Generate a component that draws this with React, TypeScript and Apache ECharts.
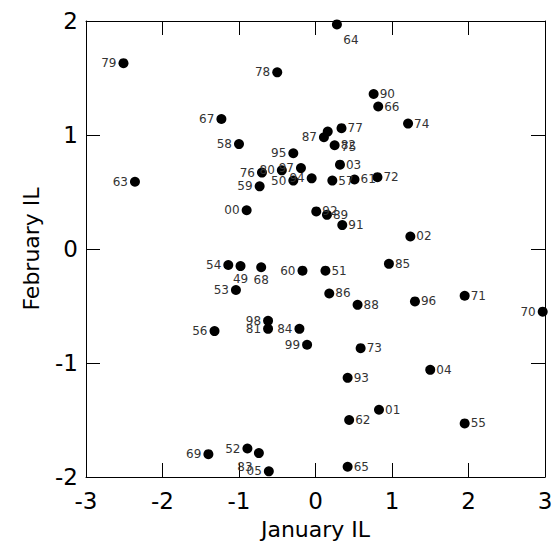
import React, { useEffect, useRef } from "react";
import * as echarts from "echarts";

const years = ["79","78","64","90","66","74","67","58","77","75","87","82","03","95","76","80","97","50","94","59","57","61","72","00","92","89","91","02","63","54","49","68","60","51","85","53","86","88","96","71","70","98","81","84","99","56","73","04","93","01","62","55","65","69","52","83","05"];

const januaryIL = [-2.51,-0.50,0.28,0.76,0.82,1.21,-1.23,-1.00,0.34,0.16,0.11,0.25,0.32,-0.29,-0.70,-0.44,-0.19,-0.29,-0.05,-0.73,0.22,0.51,0.81,-0.90,0.01,0.15,0.35,1.24,-2.36,-1.14,-0.98,-0.71,-0.17,0.13,0.96,-1.04,0.18,0.55,1.30,1.95,2.97,-0.62,-0.62,-0.21,-0.11,-1.32,0.59,1.50,0.42,0.83,0.44,1.95,0.42,-1.40,-0.89,-0.74,-0.61];

const februaryIL = [1.63,1.55,1.97,1.36,1.25,1.10,1.14,0.92,1.06,1.03,0.98,0.91,0.74,0.84,0.67,0.69,0.71,0.60,0.62,0.55,0.60,0.61,0.63,0.34,0.33,0.30,0.21,0.11,0.59,-0.14,-0.15,-0.16,-0.19,-0.19,-0.13,-0.36,-0.39,-0.49,-0.46,-0.41,-0.55,-0.63,-0.70,-0.70,-0.84,-0.72,-0.87,-1.06,-1.13,-1.41,-1.50,-1.53,-1.91,-1.80,-1.75,-1.79,-1.95];

const labelSide = ["L","L","BR","R","R","R","L","L","R","RD","L","R","R","L","L","L","L","L","L","L","R","R","R","L","R","R","R","R","L","L","B","B","L","R","R","L","R","R","R","R","L","L","L","L","L","L","R","R","R","R","R","R","R","L","L","BL","L"];

const xTicks = [-3, -2, -1, 0, 1, 2, 3];
const yTicks = [-2, -1, 0, 1, 2];

const FONT = "DejaVu Sans";

function labelFor(side: string) {
  const base = { show: true, formatter: "{b}", fontFamily: FONT, fontSize: 12, color: "#333" };
  switch (side) {
    case "L": return { ...base, position: "left", distance: 2 };
    case "R": return { ...base, position: "right", distance: 1 };
    case "B": return { ...base, position: "bottom", distance: 2 };
    case "BR": return { ...base, position: "inside", offset: [14, 16] };
    case "BL": return { ...base, position: "inside", offset: [-14, 14] };
    case "RD": return { ...base, position: "inside", offset: [21, 15] };
    default: return { ...base, show: false };
  }
}

export default function App() {
  const ref = useRef<HTMLDivElement>(null);
  useEffect(() => {
    if (!ref.current) return;
    const chart = echarts.init(ref.current, null, { renderer: "svg" });
    const data = years.map((y, i) => ({
      name: y,
      value: [januaryIL[i], februaryIL[i]],
      label: labelFor(labelSide[i]),
    }));
    const axisLine = { show: true, onZero: false, lineStyle: { color: "#000", width: 1 } };
    const axisTick = { show: true, inside: true, length: 14, lineStyle: { color: "#000", width: 1 } };
    const xMin = xTicks[0], xMax = xTicks[xTicks.length - 1];
    const yMin = yTicks[0], yMax = yTicks[yTicks.length - 1];
    chart.setOption({
      animation: false,
      grid: { left: 86, right: 12, top: 21, bottom: 69, containLabel: false },
      xAxis: [
        {
          type: "value", position: "bottom", min: xMin, max: xMax, interval: 1,
          axisLine, axisTick, splitLine: { show: false },
          axisLabel: { fontFamily: FONT, fontSize: 23, color: "#000", margin: 12 },
          name: "January IL", nameLocation: "middle", nameGap: 41,
          nameTextStyle: { fontFamily: FONT, fontSize: 22, color: "#000" },
        },
        {
          type: "value", position: "top", min: xMin, max: xMax, interval: 1,
          axisLine, axisTick, splitLine: { show: false }, axisLabel: { show: false },
        },
      ],
      yAxis: [
        {
          type: "value", position: "left", min: yMin, max: yMax, interval: 1,
          axisLine, axisTick, splitLine: { show: false },
          axisLabel: { fontFamily: FONT, fontSize: 23, color: "#000", margin: 8 },
          name: "February IL", nameLocation: "middle", nameGap: 44,
          nameTextStyle: { fontFamily: FONT, fontSize: 22, color: "#000" },
        },
        {
          type: "value", position: "right", min: yMin, max: yMax, interval: 1,
          axisLine, axisTick, splitLine: { show: false }, axisLabel: { show: false },
        },
      ],
      series: [
        {
          type: "scatter",
          xAxisIndex: 0,
          yAxisIndex: 0,
          symbol: "circle",
          symbolSize: 10,
          clip: false,
          itemStyle: { color: "#000", opacity: 1 },
          data,
        },
      ],
    });
    return () => chart.dispose();
  }, []);
  return (
    <div
      ref={ref}
      style={{ position: "fixed", left: 0, top: 0, width: 557, height: 546, background: "#fff" }}
    />
  );
}
